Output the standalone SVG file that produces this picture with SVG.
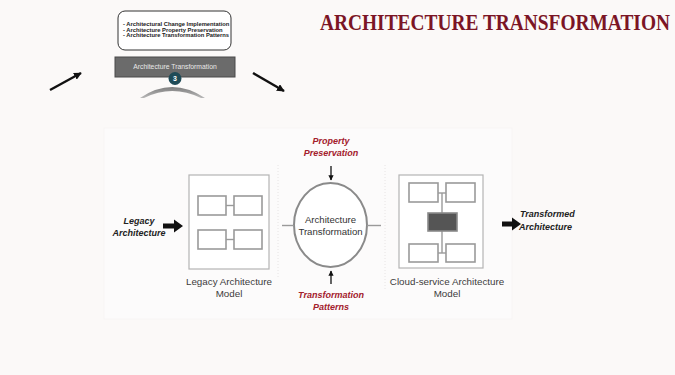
<svg xmlns="http://www.w3.org/2000/svg" width="675" height="375" viewBox="0 0 675 375">
  <defs>
    <style>
      .bg { fill: #fbf9f8; }
      .sans { font-family: "Liberation Sans", Arial, sans-serif; }
      .frame { fill: #ffffff; stroke: #b4b4b4; stroke-width: 1.2; }
      .cell { fill: #ffffff; stroke: #9a9a9a; stroke-width: 1.6; }
      .link { stroke: #9a9a9a; stroke-width: 1.4; fill: none; }
      .sep { stroke: #e2e0e0; stroke-width: 0.8; stroke-dasharray: 1 2; }
      .cap { font-size: 9.8px; fill: #3c3c3c; text-anchor: middle; }
      .io { font-size: 9px; font-weight: bold; font-style: italic; fill: #222222; }
      .red { font-size: 9px; font-weight: bold; font-style: italic; fill: #a3202c; text-anchor: middle; }
      .fat { fill: #111111; }
      .thin { stroke: #111111; stroke-width: 1.3; fill: none; }
      .slant { stroke: #111111; stroke-width: 2.4; fill: none; }
    </style>
    <marker id="tip" viewBox="0 0 10 10" refX="9" refY="5" markerWidth="4" markerHeight="4" orient="auto">
      <path d="M0,0 L10,5 L0,10 Z" fill="#111111"/>
    </marker>
    <marker id="tipBig" viewBox="0 0 10 10" refX="9" refY="5" markerWidth="3.2" markerHeight="3.2" orient="auto">
      <path d="M0,0 L10,5 L0,10 Z" fill="#111111"/>
    </marker>
    <linearGradient id="dome" x1="0" y1="0" x2="0" y2="1">
      <stop offset="0" stop-color="#7e7e7e"/>
      <stop offset="1" stop-color="#b8b8b8"/>
    </linearGradient>
  </defs>

  <rect class="bg" x="0" y="0" width="675" height="375"/>

  <!-- title -->
  <text transform="translate(320,30) scale(1,1.18)" x="0" y="0" font-family="'Liberation Serif', 'DejaVu Serif', serif" font-weight="bold" font-size="19" fill="#7b1525" textLength="350" lengthAdjust="spacingAndGlyphs">ARCHITECTURE TRANSFORMATION</text>

  <!-- step 3 summary card -->
  <g id="step-summary">
    <rect x="118" y="11" width="113" height="39" rx="7" fill="#ffffff" stroke="#333333" stroke-width="1"/>
    <text class="sans" x="123" y="26" font-size="5.8" font-weight="bold" fill="#222222">- Architectural Change Implementation</text>
    <text class="sans" x="123" y="31.7" font-size="5.8" font-weight="bold" fill="#222222">- Architecture Property Preservation</text>
    <text class="sans" x="123" y="37.4" font-size="5.8" font-weight="bold" fill="#222222">- Architecture Transformation Patterns</text>
  </g>

  <g id="step-bar">
    <rect x="115" y="57" width="120" height="20" fill="#6b6b6b" stroke="#4a4a4a" stroke-width="1"/>
    <text class="sans" x="175" y="69" font-size="6.8" fill="#e8e8e8" text-anchor="middle">Architecture Transformation</text>
    <circle cx="175" cy="78.5" r="6.5" fill="#1f4b57"/>
    <text class="sans" x="175" y="81" font-size="7" font-weight="bold" fill="#ffffff" text-anchor="middle">3</text>
    <path d="M140,98 Q172,76 205,98 L201,98 Q172,84 144,98 Z" fill="url(#dome)"/>
  </g>

  <!-- faint panel of the model diagram -->
  <rect x="104" y="128" width="408" height="191" fill="#fcfbfb" stroke="#f4f2f2" stroke-width="0.6"/>

  <g id="legacy-model">
    <rect class="frame" x="189" y="175" width="80" height="94"/>
    <rect class="cell" x="198" y="196" width="28" height="19"/>
    <rect class="cell" x="234" y="196" width="28" height="19"/>
    <rect class="cell" x="198" y="230" width="28" height="19"/>
    <rect class="cell" x="234" y="230" width="28" height="19"/>
    <line class="link" x1="226" y1="205.5" x2="234" y2="205.5"/>
    <line class="link" x1="226" y1="239.5" x2="234" y2="239.5"/>
    <text class="sans cap" x="229" y="285">Legacy Architecture</text>
    <text class="sans cap" x="229" y="297">Model</text>
  </g>

  <g id="transformation">
    <ellipse cx="330.5" cy="225" rx="36.5" ry="42" fill="#ffffff" stroke="#8a8a8a" stroke-width="2"/>
    <text class="sans" x="330.5" y="223" font-size="9.6" fill="#333333" text-anchor="middle">Architecture</text>
    <text class="sans" x="330.5" y="235" font-size="9.6" fill="#333333" text-anchor="middle">Transformation</text>
  </g>

  <g id="cloud-model">
    <rect class="frame" x="399" y="175" width="84" height="93"/>
    <line class="link" x1="442" y1="193" x2="442" y2="253"/>
    <line class="link" x1="438" y1="193" x2="446" y2="193"/>
    <line class="link" x1="438" y1="253" x2="446" y2="253"/>
    <rect class="cell" x="409" y="183" width="29" height="19"/>
    <rect class="cell" x="446" y="183" width="29" height="19"/>
    <rect x="428" y="213" width="29" height="18" fill="#555555" stroke="#8a8a8a" stroke-width="1.6"/>
    <rect class="cell" x="409" y="244" width="29" height="18"/>
    <rect class="cell" x="446" y="244" width="29" height="18"/>
    <text class="sans cap" x="447" y="285">Cloud-service Architecture</text>
    <text class="sans cap" x="447" y="297">Model</text>
  </g>

  <g id="inputs-outputs">
    <text class="sans io" x="139" y="224" text-anchor="middle">Legacy</text>
    <text class="sans io" x="139" y="236" text-anchor="middle">Architecture</text>
    <text class="sans io" x="520" y="217">Transformed</text>
    <text class="sans io" x="519" y="230">Architecture</text>
    <text class="sans red" x="331" y="144">Property</text>
    <text class="sans red" x="331" y="156">Preservation</text>
    <text class="sans red" x="331" y="298">Transformation</text>
    <text class="sans red" x="331" y="310">Patterns</text>
  </g>

  <g id="connectors">
    <line class="sep" x1="278" y1="165" x2="278" y2="278"/>
    <line class="sep" x1="385" y1="165" x2="385" y2="290"/>
    <line class="link" x1="282" y1="225.5" x2="294" y2="225.5"/>
    <line class="link" x1="367" y1="225.5" x2="381" y2="225.5"/>
    <path class="fat" d="M163,223.5 L174,223.5 L174,219.5 L183,226 L174,232.5 L174,228.5 L163,228.5 Z"/>
    <path class="fat" d="M502,221.5 L512,221.5 L512,217.5 L521,224 L512,230.5 L512,226.5 L502,226.5 Z"/>
    <line class="thin" x1="331" y1="166" x2="331" y2="180" marker-end="url(#tip)"/>
    <line class="thin" x1="331" y1="284" x2="331" y2="271" marker-end="url(#tip)"/>
    <line class="slant" x1="50" y1="90" x2="81" y2="73" marker-end="url(#tipBig)"/>
    <line class="slant" x1="253" y1="73" x2="284" y2="91" marker-end="url(#tipBig)"/>
  </g>
</svg>
